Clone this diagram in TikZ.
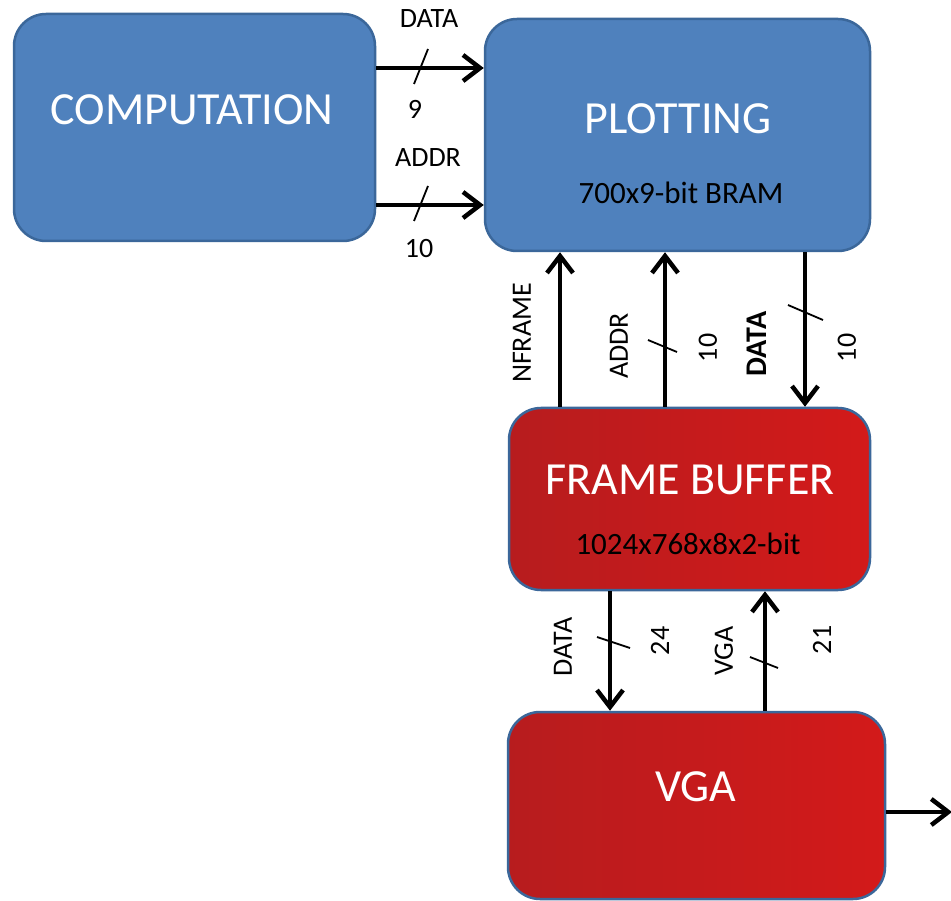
\documentclass[tikz,border=0pt]{standalone}
\usepackage{fontspec}
\setmainfont{Carlito}
\usetikzlibrary{arrows.meta}
\definecolor{bfill}{HTML}{4F81BD}
\definecolor{bline}{HTML}{3B679A}
\definecolor{rleft}{HTML}{B71C1E}
\definecolor{rright}{HTML}{D31A1A}
\tikzset{
  bluebox/.style={draw=bline, line width=2.5pt, fill=bfill, rounded corners=32pt, inner sep=0pt},
  redbox/.style={draw=bline, line width=2.5pt, left color=rleft, right color=rright, rounded corners=32pt, inner sep=0pt},
  title/.style={text=white, font=\fontsize{46}{52}\selectfont, inner sep=0pt},
  sub/.style={text=black, font=\fontsize{31}{36}\selectfont, inner sep=0pt},
  lab/.style={text=black, font=\fontsize{28}{32}\selectfont, inner sep=0pt},
  vlab/.style={lab, rotate=90},
  arr/.style={line width=4.5pt, -{Straight Barb[length=17pt,width=26pt]}},
  slash/.style={line width=1.8pt}
}
\begin{document}
\begin{tikzpicture}[x=1pt,y=-1pt]
\useasboundingbox (0,0) rectangle (951,901);
\clip (0,0) rectangle (951,901);
% boxes
\node[bluebox, minimum width=361pt, minimum height=227pt] (comp) at (194.5,127.5) {};
\node[bluebox, minimum width=385pt, minimum height=232pt] (plot) at (677.5,135) {};
\node[redbox, minimum width=361pt, minimum height=182pt] (fb) at (689.5,499) {};
\node[redbox, minimum width=377pt, minimum height=187pt] (vga) at (696.5,805.5) {};
% box texts
\node[title] (tcomp) at (192,110) {COMPUTATION};
\node[title] (tplot) at (678,119) {PLOTTING};
\node[sub] (splot) at (681,193) {700x9-bit BRAM};
\node[title] (tfb) at (690,480) {FRAME BUFFER};
\node[sub] (sfb) at (688,544) {1024x768x8x2-bit};
\node[title] (tvga) at (696,787) {VGA};
% horizontal arrows
\draw[arr] (comp.east |- 0,68) -- (plot.west |- 0,68);
\draw[arr] (comp.east |- 0,205) -- (plot.west |- 0,205);
\draw[slash] (414,84) -- (428,49);
\draw[slash] (414,221) -- (428,186);
\node[lab] (ldata) at (429,19) {DATA};
\node[lab] (l9) at (415,109) {9};
\node[lab] (laddr) at (428,158) {ADDR};
\node[lab] (l10) at (419,249) {10};
% vertical arrows between plotting and frame buffer
\draw[arr] (fb.north -| 560,0) -- (plot.south -| 560,0);
\draw[arr] (fb.north -| 665,0) -- (plot.south -| 665,0);
\draw[arr] (plot.south -| 805,0) -- (fb.north -| 805,0);
\draw[slash] (648,340) -- (677,352);
\draw[slash] (788,305) -- (823,320);
\node[vlab] (lnframe) at (522,333) {NFRAME};
\node[vlab] (laddr2) at (619,346) {ADDR};
\node[vlab] (l10b) at (708,348) {10};
\node[vlab, font=\fontsize{30}{34}\selectfont\bfseries] (ldata2) at (757,344) {DATA};
\node[vlab] (l10c) at (847,348) {10};
% vertical arrows between frame buffer and VGA
\draw[arr] (fb.south -| 610,0) -- (vga.north -| 610,0);
\draw[arr] (vga.north -| 765,0) -- (fb.south -| 765,0);
\draw[slash] (597,637) -- (630,648);
\draw[slash] (750,657) -- (778,668);
\node[vlab] (ldata3) at (563,647) {DATA};
\node[vlab] (l24) at (660,641) {24};
\node[vlab] (lvga) at (724,651) {VGA};
\node[vlab] (l21) at (822,640) {21};
% output
\coordinate (out) at (952,812);
\draw[arr] (vga.east |- 0,812) -- (out);
\end{tikzpicture}
\end{document}
